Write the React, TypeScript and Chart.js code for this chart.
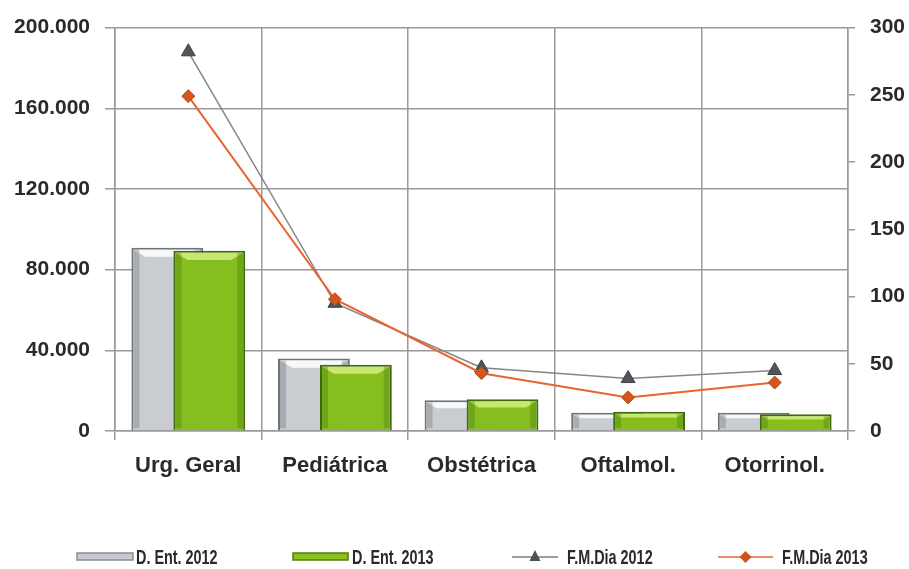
import React, { useEffect, useRef } from 'react';
import { Chart, registerables } from 'chart.js';

Chart.register(...registerables);

const categories = ['Urg. Geral', 'Pediátrica', 'Obstétrica', 'Oftalmol.', 'Otorrinol.'];
const seriesLabels = ['D. Ent. 2012', 'D. Ent. 2013', 'F.M.Dia 2012', 'F.M.Dia 2013'];
const dEnt2012 = [90900, 35900, 15200, 9000, 9000];
const dEnt2013 = [89400, 32900, 15700, 9500, 8300];
const fmDia2012 = [282, 95, 47, 39, 45];
const fmDia2013 = [249, 98, 43, 25, 36];
const leftAxis = { min: 0, max: 200000, step: 40000 };
const rightAxis = { min: 0, max: 300, step: 50 };

const FONT = '"Liberation Sans", Arial, sans-serif';
const TEXT = '#2a2a2a';
const GRID = '#9a9a9a';

const fmt = (v: number) => String(v).replace(/\B(?=(\d{3})+(?!\d))/g, '.');

function drawBevel(chart: any, index: number) {
  const ds = chart.data.datasets[index];
  if (!ds.bevel) return;
  const ctx = chart.ctx;
  const meta = chart.getDatasetMeta(index);
  ctx.save();
  meta.data.forEach((el: any) => {
    const { x, y, base, width } = el.getProps(['x', 'y', 'base', 'width'], true);
    if (y == null || isNaN(y)) return;
    const left = x - width / 2;
    const h = base - y;
    if (h < 6) return;
    const inset = Math.min(12, h / 3);
    ctx.fillStyle = ds.bevel;
    ctx.beginPath();
    ctx.moveTo(left + 2, y + 2);
    ctx.lineTo(left + width - 2, y + 2);
    ctx.lineTo(left + width - 2 - inset, y + 2 + inset * 0.6);
    ctx.lineTo(left + 2 + inset, y + 2 + inset * 0.6);
    ctx.closePath();
    ctx.fill();
    const sw = Math.min(6, width / 8);
    ctx.fillStyle = ds.shade;
    ctx.fillRect(left + 2, y + 2, sw, h - 4);
    ctx.fillRect(left + width - 2 - sw, y + 2, sw, h - 4);
  });
  ctx.restore();
}

// Bars: gray (2012) sits left and is painted first; green (2013) overlaps it on top.
const barLayerPlugin = {
  id: 'barLayer',
  beforeDatasetDraw(chart: any, args: any) {
    const ds = chart.data.datasets[args.index];
    if (ds.role === 'back') {
      if (chart.$drawingBack) return true;
      return false;
    }
    if (ds.role === 'front') {
      const backIdx = chart.data.datasets.findIndex((d: any) => d.role === 'back');
      if (backIdx >= 0) {
        chart.$drawingBack = true;
        chart.getDatasetMeta(backIdx).controller.draw();
        drawBevel(chart, backIdx);
        chart.$drawingBack = false;
      }
    }
    return true;
  },
  afterDatasetDraw(chart: any, args: any) {
    const ds = chart.data.datasets[args.index];
    if (ds.role === 'front') drawBevel(chart, args.index);
  },
};

const legendPlugin = {
  id: 'customLegend',
  afterDraw(chart: any) {
    const ctx = chart.ctx;
    const cy = 557;
    const items = [
      { kind: 'bar', x0: 77, x1: 133, tx: 136, fill: '#c6cace', stroke: '#8a8e92' },
      { kind: 'bar', x0: 293, x1: 348, tx: 352, fill: '#8cc21e', stroke: '#4f7d12' },
      { kind: 'tri', x0: 512, x1: 558, tx: 567, line: '#7d7d7d', marker: '#4d5258' },
      { kind: 'dia', x0: 718, x1: 773, tx: 782, line: '#e8662e', marker: '#cf531c' },
    ];
    ctx.save();
    items.forEach((it, i) => {
      if (it.kind === 'bar') {
        ctx.fillStyle = it.fill;
        ctx.strokeStyle = it.stroke;
        ctx.lineWidth = 1.5;
        ctx.fillRect(it.x0, cy - 4, it.x1 - it.x0, 7);
        ctx.strokeRect(it.x0, cy - 4, it.x1 - it.x0, 7);
      } else {
        ctx.strokeStyle = it.line;
        ctx.lineWidth = 1.5;
        ctx.beginPath();
        ctx.moveTo(it.x0, cy);
        ctx.lineTo(it.x1, cy);
        ctx.stroke();
        const mx = (it.x0 + it.x1) / 2;
        ctx.fillStyle = it.marker;
        ctx.beginPath();
        if (it.kind === 'tri') {
          ctx.moveTo(mx, cy - 7);
          ctx.lineTo(mx + 5.5, cy + 4);
          ctx.lineTo(mx - 5.5, cy + 4);
        } else {
          ctx.moveTo(mx, cy - 6);
          ctx.lineTo(mx + 6, cy);
          ctx.lineTo(mx, cy + 6);
          ctx.lineTo(mx - 6, cy);
        }
        ctx.closePath();
        ctx.fill();
      }
      ctx.save();
      ctx.translate(it.tx, cy + 1);
      ctx.scale(0.72, 1);
      ctx.font = `bold 20px ${FONT}`;
      ctx.fillStyle = TEXT;
      ctx.textBaseline = 'middle';
      ctx.textAlign = 'left';
      ctx.fillText(seriesLabels[i], 0, 0);
      ctx.restore();
    });
    ctx.restore();
  },
};

export default function App() {
  const canvasRef = useRef<HTMLCanvasElement | null>(null);

  useEffect(() => {
    document.body.style.margin = '0';
    document.body.style.overflow = 'hidden';
    const canvas = canvasRef.current;
    if (!canvas) return;

    const barShape = { categoryPercentage: 0.573, barPercentage: 1.71 };

    const chart = new Chart(canvas, {
      type: 'bar',
      data: {
        labels: categories,
        datasets: [
          {
            type: 'line',
            label: seriesLabels[3],
            data: fmDia2013,
            yAxisID: 'y1',
            borderColor: '#e8662e',
            borderWidth: 2,
            pointStyle: 'rectRot',
            pointRadius: 6.5,
            pointBackgroundColor: '#d4561d',
            pointBorderColor: '#b8461a',
            pointBorderWidth: 1,
            order: 1,
          } as any,
          {
            type: 'line',
            label: seriesLabels[2],
            data: fmDia2012,
            yAxisID: 'y1',
            borderColor: '#858585',
            borderWidth: 1.5,
            pointStyle: 'triangle',
            pointRadius: 8,
            pointBackgroundColor: '#50555b',
            pointBorderColor: '#3d4146',
            pointBorderWidth: 1,
            order: 2,
          } as any,
          {
            type: 'bar',
            label: seriesLabels[0],
            data: dEnt2012,
            yAxisID: 'y',
            backgroundColor: '#c9cdd1',
            borderColor: '#6f7479',
            borderWidth: 2,
            bevel: 'rgba(255,255,255,0.85)',
            shade: 'rgba(110,115,120,0.35)',
            role: 'back',
            order: 3,
            ...barShape,
          } as any,
          {
            type: 'bar',
            label: seriesLabels[1],
            data: dEnt2013,
            yAxisID: 'y',
            backgroundColor: '#86bd1f',
            borderColor: '#3f6b10',
            borderWidth: 2,
            bevel: 'rgba(220,245,140,0.75)',
            shade: 'rgba(70,120,10,0.35)',
            role: 'front',
            order: 4,
            ...barShape,
          } as any,
        ],
      },
      options: {
        responsive: true,
        maintainAspectRatio: false,
        animation: false,
        layout: { padding: { top: 25, bottom: 78, left: 0, right: 0 } },
        plugins: {
          legend: { display: false },
          tooltip: { enabled: false },
        },
        scales: {
          x: {
            type: 'category',
            offset: true,
            grid: {
              offset: true,
              color: GRID,
              lineWidth: 1.5,
              tickLength: 9,
              drawOnChartArea: true,
            },
            border: { color: GRID, width: 1.5 },
            ticks: {
              color: TEXT,
              padding: 13,
              font: { family: FONT, size: 22, weight: 'bold' },
              maxRotation: 0,
            },
            afterFit(scale: any) {
              scale.height = 60;
            },
          },
          y: {
            position: 'left',
            min: leftAxis.min,
            max: leftAxis.max,
            grid: { color: GRID, lineWidth: 1.5, tickLength: 10 },
            border: { color: GRID, width: 1.5 },
            ticks: {
              stepSize: leftAxis.step,
              color: TEXT,
              padding: 15,
              font: { family: FONT, size: 21, weight: 'bold' },
              callback: (v: any) => fmt(Number(v)),
            },
            afterFit(scale: any) {
              scale.width = 115;
            },
          },
          y1: {
            position: 'right',
            min: rightAxis.min,
            max: rightAxis.max,
            grid: { drawOnChartArea: false, color: GRID, lineWidth: 1.5, tickLength: 7 },
            border: { color: GRID, width: 1.5 },
            ticks: {
              stepSize: rightAxis.step,
              color: TEXT,
              padding: 15,
              font: { family: FONT, size: 21, weight: 'bold' },
            },
            afterFit(scale: any) {
              scale.width = 61;
            },
          },
        },
      } as any,
      plugins: [barLayerPlugin, legendPlugin],
    });

    return () => chart.destroy();
  }, []);

  return (
    <div style={{ position: 'relative', width: 909, height: 569 }}>
      <canvas ref={canvasRef} />
    </div>
  );
}
